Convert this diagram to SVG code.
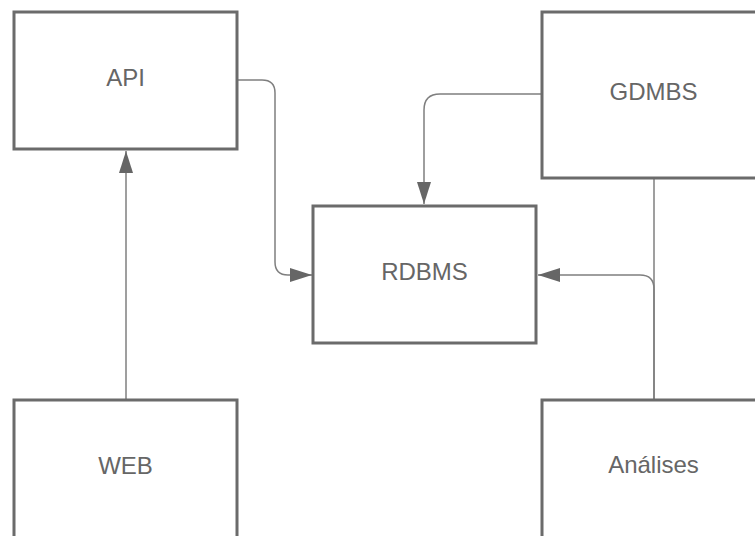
<svg xmlns="http://www.w3.org/2000/svg" width="755" height="536" viewBox="0 0 755 536">
<style>
.box{fill:#ffffff;stroke:#6b6b6b;stroke-width:3}
.lbl{font-family:"Liberation Sans",Arial,sans-serif;font-size:24px;fill:#666666;text-anchor:middle}
.conn{fill:none;stroke:#7f7f7f;stroke-width:1.5}
</style>
<defs>
<marker id="arr" markerUnits="userSpaceOnUse" markerWidth="23" markerHeight="15" refX="22" refY="7" orient="auto">
<path d="M0,0 L22,7 L0,14 z" fill="#666666"/>
</marker>
</defs>
<rect width="755" height="536" fill="#ffffff"/>
<g id="connectors">
<path class="conn" d="M237,80 H262 Q275,80 275,93 V262 Q275,275 288,275 H312" marker-end="url(#arr)"/>
<path class="conn" d="M542,94 H440 Q424,94 424,110 V204" marker-end="url(#arr)"/>
<path class="conn" d="M126,400 V151" marker-end="url(#arr)"/>
<path class="conn" d="M654,178 V400"/>
<path class="conn" d="M654,400 V289 Q654,275 640,275 H538" marker-end="url(#arr)"/>
</g>
<g id="node-api">
<rect class="box" x="14" y="12" width="223" height="137"/>
<text class="lbl" x="125.5" y="86">API</text>
</g>
<g id="node-gdmbs">
<rect class="box" x="542" y="12" width="223" height="166"/>
<text class="lbl" x="653.5" y="100">GDMBS</text>
</g>
<g id="node-rdbms">
<rect class="box" x="313" y="206" width="223" height="137"/>
<text class="lbl" x="424.5" y="280">RDBMS</text>
</g>
<g id="node-web">
<rect class="box" x="14" y="400" width="223" height="150"/>
<text class="lbl" x="125.5" y="474">WEB</text>
</g>
<g id="node-analises">
<rect class="box" x="542" y="400" width="223" height="150"/>
<text class="lbl" x="653.5" y="473">Análises</text>
</g>
</svg>
